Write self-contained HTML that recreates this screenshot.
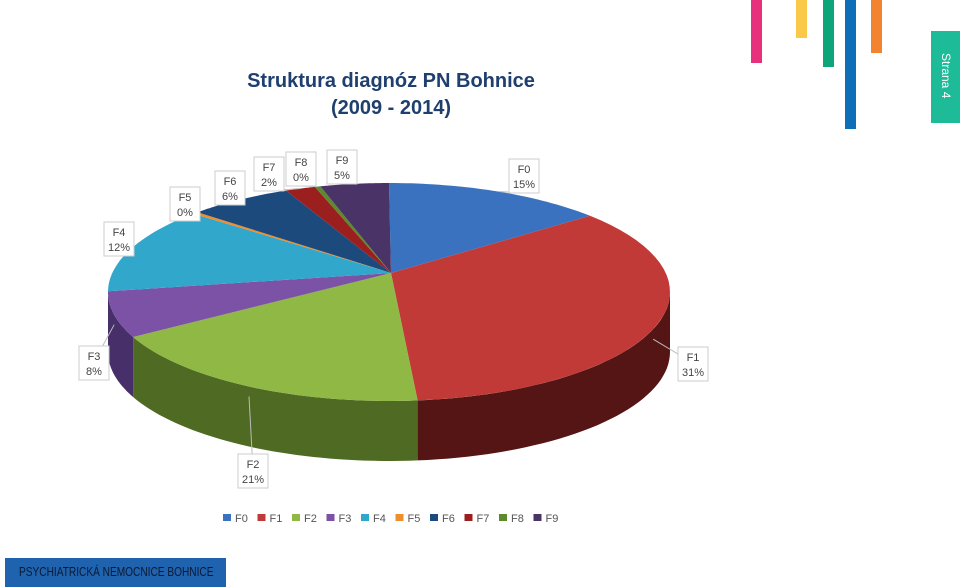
<!DOCTYPE html>
<html><head><meta charset="utf-8">
<style>
body{margin:0;width:960px;height:587px;background:#fff;overflow:hidden;position:relative;font-family:"Liberation Sans",sans-serif}
.bar{position:absolute;top:0;width:11px}
#footer{position:absolute;left:5px;top:558px;width:221px;height:29px;background:#1f62ad;overflow:hidden}
#footer span{position:absolute;left:14px;top:0;color:#0b1a33;font-size:12.5px;line-height:29px;white-space:nowrap;transform:scaleX(0.81);transform-origin:0 50%}
#tab{position:absolute;left:931px;top:31px;width:29px;height:92px;background:#1dbb98;color:#fff;font-size:12px}
#tab span{position:absolute;left:8px;top:22px;writing-mode:vertical-rl}
</style></head><body>
<div class="bar" style="left:751px;height:63px;background:#e8317c"></div>
<div class="bar" style="left:796px;height:38px;background:#fbc94a"></div>
<div class="bar" style="left:823px;height:67px;background:#0ea57a"></div>
<div class="bar" style="left:845px;height:129px;background:#0e6fb8"></div>
<div class="bar" style="left:871px;height:53px;background:#f3842f"></div>
<div id="tab"><span>Strana 4</span></div>
<svg id="chart" width="960" height="587" style="position:absolute;left:0;top:0">
<text x="391" y="87" text-anchor="middle" font-family="Liberation Sans" font-weight="bold" font-size="20" fill="#1f3f6e">Struktura diagnóz PN Bohnice</text>
<text x="391" y="114" text-anchor="middle" font-family="Liberation Sans" font-weight="bold" font-size="20" fill="#1f3f6e">(2009 - 2014)</text>
<g id="sides"></g><g id="tops"></g><g id="labels"></g><g id="legend"></g>
</svg>
<div id="footer"><span>PSYCHIATRICKÁ NEMOCNICE BOHNICE</span></div>
<script>
const categories=["F0","F1","F2","F3","F4","F5","F6","F7","F8","F9"];
const values=[15,31,21,8,12,0.3,6,2,0.4,5];
const percentLabels=["15%","31%","21%","8%","12%","0%","6%","2%","0%","5%"];
const colors=["#3a72c0","#c23a38","#8fb845","#7b52a6","#31a7cb","#ef8e2e","#1d4a7c","#9c1f1f","#5c8a2c","#4a3366"];
const sideColors=["#234a80","#551515","#4f6a22","#47306a","#1b6a85","#a05a18","#102c4c","#5a1010","#3a5a1a","#2a1c3c"];
const labelPos=[[524,175],[693,363],[253,470],[94,362],[119,238],[185,203],[230,187],[269,173],[301,168],[342,166]];
const NS="http://www.w3.org/2000/svg";
const cx=389,cy=292,rx=281,ry=109,depth=60,ax=391,ay=273;
/* perspective warp: true angle (deg) -> drawn ellipse parameter (deg) */
const warpIn=[-90,-36,75.6,151,180,223,246,270];
const warpOut=[-90,-44,85.5,157,182,228,251,270];
function warp(tr){const d=tr*180/Math.PI;for(let i=0;i<warpIn.length-1;i++){if(d<=warpIn[i+1]){const f=(d-warpIn[i])/(warpIn[i+1]-warpIn[i]);return (warpOut[i]+f*(warpOut[i+1]-warpOut[i]))*Math.PI/180;}}return tr;}
const total=values.reduce((a,b)=>a+b,0);
function pt(t,dy){return [cx+rx*Math.cos(t),cy+ry*Math.sin(t)+(dy||0)];}
function arc(t1,t2,dy,rev){let s="";const n=40;for(let i=0;i<=n;i++){const t=rev?t2-(t2-t1)*i/n:t1+(t2-t1)*i/n;const p=pt(t,dy);s+=(i===0&&!rev?"":"L")+p[0].toFixed(1)+","+p[1].toFixed(1)+" ";}return s;}
const sides=document.getElementById("sides"),tops=document.getElementById("tops"),labels=document.getElementById("labels");
let acc=0;
values.forEach((v,i)=>{
 const t1=warp(-Math.PI/2+acc/total*2*Math.PI);acc+=v;const t2=warp(-Math.PI/2+acc/total*2*Math.PI);
 const s1=Math.max(t1,0),s2=Math.min(t2,Math.PI);
 if(s2>s1){const p=document.createElementNS(NS,"path");
  p.setAttribute("d","M"+arc(s1,s2,0,false)+arc(s1,s2,depth,true)+"Z");
  p.setAttribute("fill",sideColors[i]);
  
  
  sides.appendChild(p);}
 const p=document.createElementNS(NS,"path");
 p.setAttribute("d","M"+ax+","+ay+" L"+arc(t1,t2,0,false)+"Z");
 p.setAttribute("fill",colors[i]);
 
 
 tops.appendChild(p);
 const [lx,ly]=labelPos[i];const tm=(t1+t2)/2;const e=pt(tm,tm>0&&tm<Math.PI?10:0);
 const ln=document.createElementNS(NS,"line");
 ln.setAttribute("x1",e[0]);ln.setAttribute("y1",e[1]);ln.setAttribute("x2",lx);ln.setAttribute("y2",ly+(ly<e[1]?18:0));
 ln.setAttribute("stroke","#bbb");
 
 
 labels.appendChild(ln);
 const r=document.createElementNS(NS,"rect");
 r.setAttribute("x",lx-15);r.setAttribute("y",ly-16);r.setAttribute("width",30);r.setAttribute("height",34);r.setAttribute("fill","#fff");r.setAttribute("stroke","#ccc");
 
 
 labels.appendChild(r);
 [categories[i],percentLabels[i]].forEach((s,k)=>{const t=document.createElementNS(NS,"text");
  t.setAttribute("x",lx);t.setAttribute("y",ly-2+k*15);t.setAttribute("text-anchor","middle");t.setAttribute("font-size","11");t.setAttribute("fill","#444");t.setAttribute("font-family","Liberation Sans");t.textContent=s;
  
  
  labels.appendChild(t);});
});
const legend=document.getElementById("legend");
categories.forEach((c,i)=>{const x=223+i*34.5;
 const r=document.createElementNS(NS,"rect");r.setAttribute("x",x);r.setAttribute("y",514);r.setAttribute("width",8);r.setAttribute("height",7);r.setAttribute("fill",colors[i]);
 
 
 legend.appendChild(r);
 const t=document.createElementNS(NS,"text");t.setAttribute("x",x+12);t.setAttribute("y",522);t.setAttribute("font-size","11");t.setAttribute("fill","#555");t.setAttribute("font-family","Liberation Sans");t.textContent=c;
 
 
 legend.appendChild(t);});
</script>
</body></html>
